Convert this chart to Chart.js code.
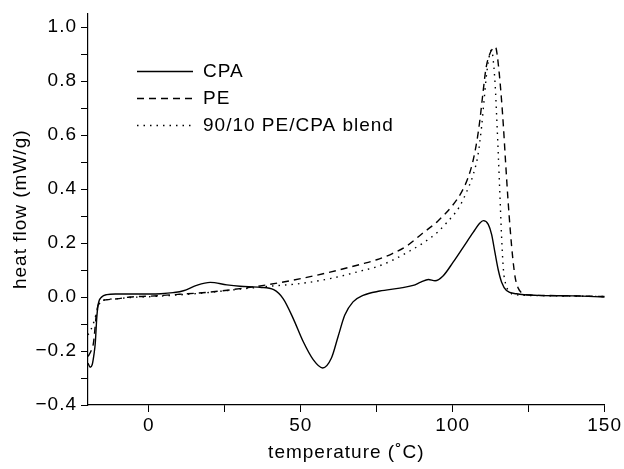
<!doctype html>
<html>
<head>
<meta charset="utf-8" />
<title>DSC heat flow</title>
<script src="https://cdn.jsdelivr.net/npm/chart.js@4.4.0/dist/chart.umd.min.js"></script>
<style>
  html, body { margin: 0; padding: 0; background: #fff; }
  #wrap { width: 624px; height: 469px; }
</style>
</head>
<body>
<div id="wrap"><canvas id="canvas"></canvas></div>
<script>
// temperature (C) and heat flow (mW/g)
const cpaTemp = [-20, -19.3, -18.6, -18.0, -17.6, -17.1, -16.6, -15.5, -13.8, -11, -5, 0, 4, 8, 11.4, 15.7, 20.2, 25.7, 30, 36.6, 41.1, 44.2, 47.5, 50.8, 54.1, 57.2, 60.1, 62.3, 64.5, 67.2, 70.5, 76, 82.6, 87, 89.5, 92, 94.2, 96.9, 100.2, 103.5, 106.8, 108.8, 110.1, 111.7, 112.8, 113.9, 115.0, 116.1, 117.7, 121, 128, 140, 150];
const cpaFlow = [-0.245, -0.26, -0.25, -0.21, -0.17, -0.075, -0.025, 0.0, 0.009, 0.011, 0.011, 0.011, 0.012, 0.016, 0.023, 0.043, 0.054, 0.045, 0.040, 0.036, 0.027, -0.006, -0.079, -0.165, -0.232, -0.263, -0.226, -0.146, -0.067, -0.018, 0.006, 0.022, 0.033, 0.043, 0.055, 0.065, 0.060, 0.079, 0.13, 0.185, 0.24, 0.272, 0.283, 0.269, 0.232, 0.165, 0.10, 0.055, 0.024, 0.012, 0.006, 0.004, 0.0];

const peTemp = [-20, -19, -18.2, -17.1, -16, -13.8, -10.5, -6.2, 0, 10, 20, 30, 40, 50, 60, 70, 75, 80, 85, 90, 95, 100, 103, 105, 106.6, 108, 109, 110, 111, 112.2, 113.2, 114.1, 114.6, 115.3, 116, 116.7, 117.4, 118.2, 119.0, 119.8, 120.6, 121.6, 123.2, 126, 135, 145, 150];
const peFlow = [-0.22, -0.2, -0.17, -0.05, -0.019, -0.010, -0.007, 0.0, 0.003, 0.01, 0.018, 0.031, 0.047, 0.068, 0.093, 0.122, 0.138, 0.16, 0.19, 0.235, 0.28, 0.34, 0.39, 0.44, 0.50, 0.58, 0.66, 0.76, 0.85, 0.90, 0.92, 0.926, 0.90, 0.83, 0.74, 0.63, 0.50, 0.36, 0.24, 0.14, 0.07, 0.032, 0.012, 0.007, 0.005, 0.003, 0.002];

const blendTemp = [-20, -19, -18, -17, -16, -14, -10, -5, 0, 10, 20, 30, 40, 50, 60, 70, 75, 80, 85, 90, 95, 98, 100, 102, 104.6, 106.8, 108.3, 109.5, 110.3, 111, 111.7, 112.3, 112.8, 113.4, 114, 114.5, 115, 115.6, 116.1, 116.7, 117.5, 118.5, 120, 130, 140, 150];
const blendFlow = [-0.14, -0.12, -0.09, -0.05, -0.02, -0.01, -0.006, -0.001, 0.001, 0.008, 0.017, 0.029, 0.040, 0.050, 0.069, 0.097, 0.112, 0.135, 0.165, 0.198, 0.24, 0.275, 0.30, 0.33, 0.39, 0.455, 0.525, 0.63, 0.725, 0.81, 0.87, 0.905, 0.915, 0.87, 0.78, 0.66, 0.53, 0.36, 0.22, 0.10, 0.045, 0.022, 0.009, 0.005, 0.003, 0.002];

const seriesNames = ['CPA', 'PE', '90/10 PE/CPA blend'];
const xTickLabels = [0, 50, 100, 150];
const yTickLabels = [-0.4, -0.2, 0.0, 0.2, 0.4, 0.6, 0.8, 1.0];

const FONT = '"Liberation Sans", Arial, Helvetica, sans-serif';
const SIZE = 19;
const SPACING = '1px'; // the original lettering is set wide

function pairs(xs, ys) {
  return xs.map(function (x, i) { return { x: x, y: ys[i] }; });
}

function makeSet(name, xs, ys, dash) {
  return {
    label: name,
    data: pairs(xs, ys),
    borderColor: '#000',
    borderWidth: 1.4,
    borderDash: dash,
    pointRadius: 0,
    fill: false,
    cubicInterpolationMode: 'monotone'
  };
}

// wide lettering, set before measuring and before drawing
const wideText = {
  id: 'wideText',
  beforeUpdate(chart) { chart.ctx.letterSpacing = SPACING; },
  beforeDraw(chart) { chart.ctx.letterSpacing = SPACING; }
};

// legend drawn inside the plot, line sample then label
const lineLegend = {
  id: 'lineLegend',
  afterDatasetsDraw(chart) {
    const ctx = chart.ctx;
    const area = chart.chartArea;
    ctx.save();
    ctx.font = SIZE + 'px ' + FONT;
    ctx.textBaseline = 'middle';
    ctx.fillStyle = '#000';
    chart.data.datasets.forEach(function (ds, i) {
      const x = area.left + 49;
      const y = area.top + 58 + i * 27;
      ctx.strokeStyle = ds.borderColor;
      ctx.lineWidth = ds.borderWidth;
      ctx.setLineDash(ds.borderDash || []);
      ctx.beginPath();
      ctx.moveTo(x, y);
      ctx.lineTo(x + 56, y);
      ctx.stroke();
      ctx.setLineDash([]);
      ctx.fillText(ds.label, x + 66, y);
    });
    ctx.restore();
  }
};

function plotChart() {
  const config = {
    type: 'line',
    data: {
      datasets: [
        makeSet(seriesNames[0], cpaTemp, cpaFlow, []),
        makeSet(seriesNames[1], peTemp, peFlow, [7, 5]),
        makeSet(seriesNames[2], blendTemp, blendFlow, [1.5, 5])
      ]
    },
    options: {
      responsive: true,
      maintainAspectRatio: false,
      animation: false,
      layout: { padding: { top: 12, right: 19, left: 0, bottom: 0 } },
      plugins: {
        legend: { display: false },
        tooltip: { enabled: false }
      },
      scales: {
        x: {
          type: 'linear',
          min: -20,
          max: 150,
          afterFit: function (s) { s.height = 64; },
          border: { color: '#000', width: 1.2 },
          grid: { drawOnChartArea: false, drawTicks: true, tickLength: 7, color: '#000' },
          ticks: {
            stepSize: 25,
            includeBounds: false,
            autoSkip: false,
            maxRotation: 0,
            padding: 2,
            color: '#000',
            font: { family: FONT, size: SIZE },
            callback: function (v) {
              return xTickLabels.indexOf(v) >= 0 ? String(v) : '';
            }
          },
          title: {
            display: true,
            text: 'temperature (˚C)',
            color: '#000',
            font: { family: FONT, size: SIZE },
            padding: { top: 0, bottom: 5 }
          }
        },
        y: {
          type: 'linear',
          min: -0.4,
          max: 1.05,
          afterFit: function (s) { s.width = 88; },
          border: { color: '#000', width: 1.2 },
          grid: { drawOnChartArea: false, drawTicks: true, tickLength: 7, color: '#000' },
          ticks: {
            stepSize: 0.1,
            includeBounds: false,
            autoSkip: false,
            padding: 4,
            color: '#000',
            font: { family: FONT, size: SIZE, lineHeight: 1 },
            callback: function (v) {
              const k = Math.round(v * 10);
              const hit = yTickLabels.some(function (t) { return Math.round(t * 10) === k; });
              if (!hit) return '';
              const s = Math.abs(k / 10).toFixed(1);
              return k < 0 ? '\u2212' + s : s;
            }
          },
          title: {
            display: true,
            text: 'heat flow (mW/g)',
            color: '#000',
            font: { family: FONT, size: SIZE },
            padding: { top: 9, bottom: 0 }
          }
        }
      }
    },
    plugins: [wideText, lineLegend]
  };

  window.myChart = new Chart(document.getElementById('canvas'), config);
}

plotChart();
</script>
</body>
</html>
